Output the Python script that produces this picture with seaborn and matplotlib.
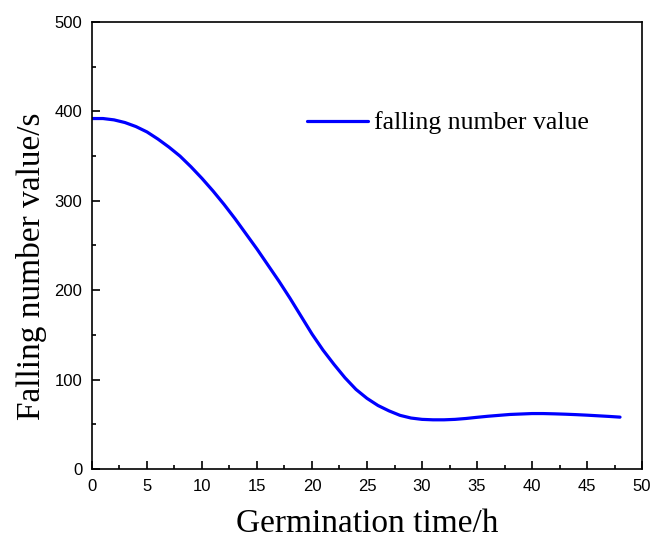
import pandas as pd
import matplotlib
matplotlib.use("Agg")
import matplotlib.pyplot as plt
import seaborn as sns
from matplotlib.ticker import MultipleLocator

# values, every hour
hours = list(range(0, 49))
falling_number = [392, 392, 390.5, 387.5, 383, 377, 369, 360, 350, 338,
                  325, 311, 296, 280, 263, 246, 228, 210, 191, 171,
                  151, 133, 117, 102, 89, 79, 71, 65, 60, 57,
                  55.5, 55, 55, 55.5, 56.5, 57.8, 59, 60, 61, 61.5,
                  62, 62, 61.7, 61.3, 60.8, 60.2, 59.5, 58.8, 58]
series_name = "falling number value"

df = pd.DataFrame({"hours": hours, "value": falling_number, "series": series_name})

sns.set_style("ticks")
plt.rcParams["font.family"] = ["Liberation Sans", "DejaVu Sans"]
plt.rcParams["text.color"] = "black"

fig = plt.figure(figsize=(6.51, 5.4), dpi=100)
ax = fig.add_axes([0.1413, 0.1315, 0.8449, 0.8278])

sns.lineplot(data=df, x="hours", y="value", hue="series", palette=["#0000ff"],
             linewidth=2.3, ax=ax)

ax.set_xlim(0, 50)
ax.set_ylim(0, 500)
ax.xaxis.set_major_locator(MultipleLocator(5))
ax.xaxis.set_minor_locator(MultipleLocator(2.5))
ax.yaxis.set_major_locator(MultipleLocator(100))
ax.yaxis.set_minor_locator(MultipleLocator(50))
ax.tick_params(which="both", direction="in", color="black", width=1.2,
               top=False, right=False, labelcolor="black")
ax.tick_params(which="major", length=6, labelsize=12, pad=7)
ax.tick_params(which="minor", length=3)
for s in ax.spines.values():
    s.set_linewidth(1.2)
    s.set_color("black")

ax.set_xlabel("Germination time/h", family=["Liberation Serif"], fontsize=24, color="black")
ax.set_ylabel("Falling number value/s", family=["Liberation Serif"], fontsize=24, color="black")
ax.xaxis.set_label_coords(0.5, -0.088)
ax.yaxis.set_label_coords(-0.082, 0.454)

leg = ax.legend(loc="center left", bbox_to_anchor=(0.391, 0.774), frameon=False,
                borderpad=0, borderaxespad=0, handlelength=2.38, handletextpad=0.23,
                prop={"family": "Liberation Serif", "size": 18.5})
for t in leg.get_texts():
    t.set_color("black")

fig.savefig("out.png", dpi=100)
